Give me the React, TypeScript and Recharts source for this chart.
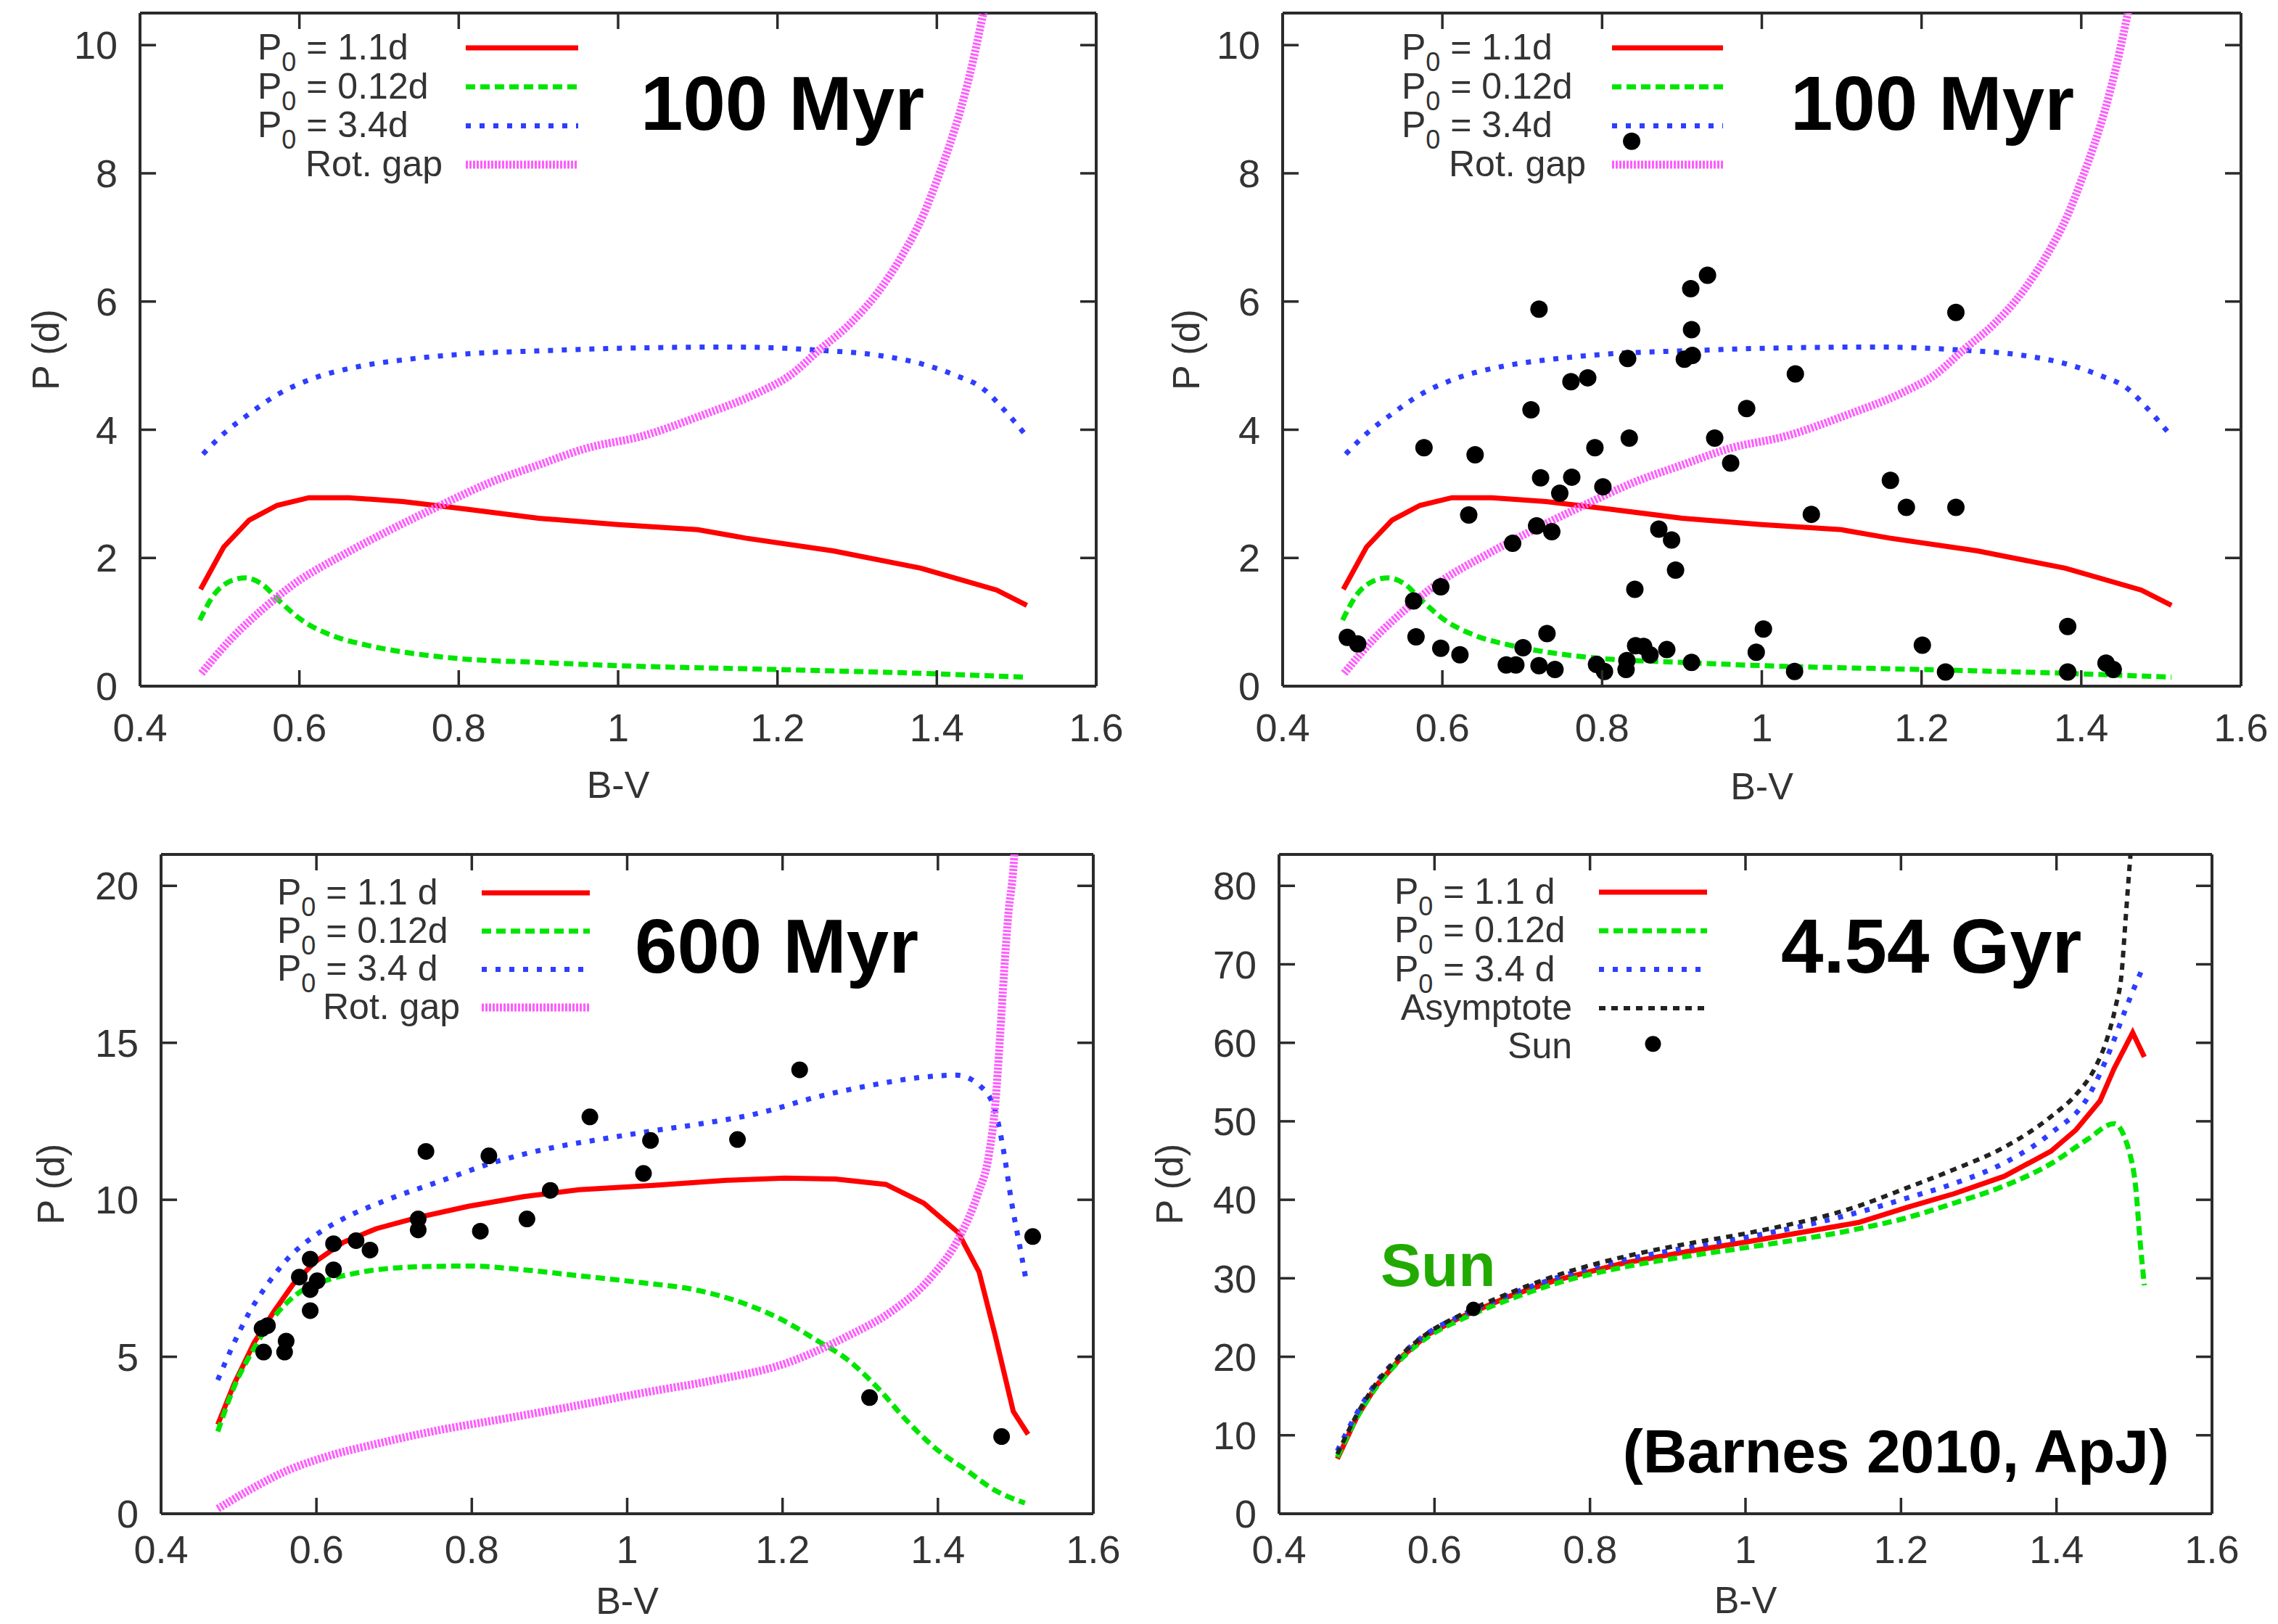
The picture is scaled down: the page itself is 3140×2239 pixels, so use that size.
import React from "react";
import { ComposedChart, Line, Scatter, XAxis, YAxis, ReferenceLine } from "recharts";

type Pt = [number, number];

const FONT = '"Liberation Sans", Arial, Helvetica, sans-serif';
const INK = "#2b2b2b";
const GREY = "#333333";

const BV_MIN = 0.4;
const BV_MAX = 1.6;
const BV_TICKS = [0.4, 0.6, 0.8, 1, 1.2, 1.4, 1.6];
const P_TICKS_100 = [0, 2, 4, 6, 8, 10];
const P_TICKS_600 = [0, 5, 10, 15, 20];
const P_TICKS_GYR = [0, 10, 20, 30, 40, 50, 60, 70, 80];

// 100 Myr tracks (same model in both top panels)
const fast100: Pt[] = [
  [0.476, 1.51], [0.505, 2.17], [0.537, 2.59], [0.572, 2.82], [0.612, 2.94], [0.662, 2.94],
  [0.73, 2.88], [0.81, 2.76], [0.9, 2.62], [1.0, 2.52], [1.1, 2.44], [1.16, 2.31],
  [1.27, 2.11], [1.38, 1.84], [1.475, 1.5], [1.513, 1.26],
];
const vfast100: Pt[] = [
  [0.475, 1.03], [0.493, 1.43], [0.509, 1.61], [0.532, 1.69], [0.552, 1.6], [0.574, 1.34],
  [0.603, 1.03], [0.639, 0.8], [0.688, 0.63], [0.737, 0.52], [0.8, 0.43], [0.9, 0.37],
  [1.0, 0.32], [1.2, 0.26], [1.38, 0.2], [1.513, 0.14],
];
const slow100: Pt[] = [
  [0.479, 3.62], [0.505, 3.94], [0.534, 4.22], [0.574, 4.56], [0.615, 4.79], [0.676, 4.99],
  [0.737, 5.1], [0.818, 5.19], [0.9, 5.23], [1.0, 5.27], [1.14, 5.29], [1.253, 5.24],
  [1.327, 5.16], [1.383, 5.02], [1.423, 4.85], [1.457, 4.65], [1.483, 4.33], [1.512, 3.91],
];
const gap100: Pt[] = [
  [0.477, 0.2], [0.513, 0.72], [0.554, 1.2], [0.594, 1.6], [0.655, 2.05], [0.716, 2.45],
  [0.777, 2.82], [0.838, 3.17], [0.9, 3.45], [0.96, 3.71], [1.03, 3.9], [1.104, 4.22],
  [1.178, 4.59], [1.216, 4.85], [1.253, 5.25], [1.29, 5.64], [1.327, 6.16], [1.357, 6.73],
  [1.383, 7.35], [1.401, 7.92], [1.416, 8.44], [1.43, 9.0], [1.445, 9.73], [1.46, 10.6], [1.47, 11.2],
];
// observed 100 Myr cluster stars
const stars100: Pt[] = [
  [0.837, 8.5], [0.932, 6.41], [0.911, 6.2], [0.721, 5.88], [0.912, 5.56], [0.832, 5.11],
  [0.903, 5.1], [0.913, 5.16], [0.761, 4.75], [0.782, 4.81], [0.711, 4.31], [0.981, 4.33],
  [1.042, 4.87], [0.577, 3.72], [0.641, 3.61], [0.791, 3.72], [0.834, 3.87], [0.941, 3.87],
  [0.961, 3.48], [0.723, 3.25], [0.762, 3.26], [0.747, 3.01], [0.801, 3.11], [0.633, 2.67],
  [0.718, 2.5], [0.737, 2.41], [0.688, 2.23], [0.871, 2.45], [0.887, 2.28], [0.892, 1.81],
  [0.841, 1.51], [0.598, 1.55], [0.564, 1.33], [0.481, 0.76], [0.494, 0.66], [0.567, 0.77],
  [0.598, 0.59], [0.622, 0.49], [0.731, 0.82], [0.701, 0.6], [0.68, 0.33], [0.692, 0.33],
  [0.721, 0.32], [0.741, 0.26], [0.793, 0.34], [0.803, 0.23], [0.83, 0.26], [0.831, 0.4],
  [0.842, 0.63], [0.852, 0.62], [0.86, 0.49], [0.881, 0.57], [0.912, 0.37], [1.002, 0.89],
  [0.993, 0.53], [1.041, 0.23], [1.243, 5.83], [1.161, 3.21], [1.062, 2.68], [1.181, 2.79],
  [1.243, 2.79], [1.201, 0.64], [1.383, 0.93], [1.23, 0.22], [1.383, 0.22], [1.431, 0.36],
  [1.44, 0.26],
];

// 600 Myr
const fast600: Pt[] = [
  [0.473, 2.84], [0.494, 4.13], [0.52, 5.46], [0.545, 6.43], [0.57, 7.31], [0.598, 8.02],
  [0.634, 8.64], [0.677, 9.08], [0.731, 9.44], [0.795, 9.79], [0.867, 10.1], [0.938, 10.32],
  [1.034, 10.46], [1.128, 10.62], [1.203, 10.69], [1.268, 10.66], [1.333, 10.49], [1.382, 9.89],
  [1.426, 8.96], [1.453, 7.7], [1.474, 5.65], [1.497, 3.26], [1.516, 2.53],
];
const vfast600: Pt[] = [
  [0.473, 2.62], [0.494, 4.04], [0.52, 5.28], [0.545, 6.25], [0.573, 6.96], [0.609, 7.4],
  [0.652, 7.67], [0.724, 7.86], [0.795, 7.89], [0.867, 7.77], [0.938, 7.58], [1.015, 7.37],
  [1.092, 7.11], [1.149, 6.71], [1.199, 6.18], [1.245, 5.51], [1.283, 4.92], [1.321, 4.05],
  [1.359, 2.99], [1.398, 2.06], [1.436, 1.4], [1.474, 0.74], [1.512, 0.34],
];
const slow600: Pt[] = [
  [0.473, 4.26], [0.491, 5.28], [0.512, 6.34], [0.537, 7.31], [0.566, 8.2], [0.598, 8.86],
  [0.634, 9.39], [0.688, 9.97], [0.759, 10.59], [0.831, 11.21], [0.902, 11.65], [0.974, 11.96],
  [1.034, 12.2], [1.092, 12.41], [1.168, 12.75], [1.245, 13.28], [1.321, 13.68], [1.382, 13.91],
  [1.424, 13.97], [1.455, 13.61], [1.474, 12.81], [1.485, 11.49], [1.495, 9.89], [1.505, 8.57],
  [1.514, 7.37],
];
const gap600: Pt[] = [
  [0.473, 0.16], [0.519, 0.83], [0.56, 1.35], [0.613, 1.82], [0.678, 2.23], [0.753, 2.64],
  [0.847, 3.05], [0.94, 3.47], [1.02, 3.85], [1.111, 4.25], [1.203, 4.78], [1.283, 5.65],
  [1.34, 6.44], [1.39, 7.5], [1.428, 8.83], [1.451, 10.16], [1.466, 11.49], [1.474, 13.08],
  [1.48, 15.2], [1.485, 17.19], [1.491, 19.18], [1.497, 20.51], [1.502, 22.5],
];
const stars600: Pt[] = [
  [0.952, 12.64], [0.741, 11.54], [0.822, 11.4], [1.03, 11.89], [1.021, 10.84], [0.901, 10.3],
  [0.731, 9.39], [0.731, 9.04], [0.811, 9.0], [0.871, 9.39], [0.622, 8.6], [0.651, 8.7],
  [0.669, 8.4], [0.592, 8.11], [0.622, 7.77], [0.578, 7.54], [0.601, 7.42], [0.592, 7.14],
  [0.592, 6.47], [0.537, 5.99], [0.53, 5.9], [0.561, 5.5], [0.559, 5.15], [0.532, 5.15],
  [1.222, 14.14], [1.142, 11.92], [1.312, 3.7], [1.482, 2.46], [1.522, 8.83],
];

// 4.54 Gyr
const fastGyr: Pt[] = [
  [0.475, 7.0], [0.5, 12.3], [0.525, 16.3], [0.558, 20.0], [0.591, 22.8], [0.633, 25.0],
  [0.696, 27.7], [0.758, 29.8], [0.842, 31.9], [0.925, 33.4], [1.0, 34.6], [1.145, 37.1],
  [1.207, 39.0], [1.269, 40.8], [1.333, 43.0], [1.393, 46.2], [1.425, 48.9], [1.456, 52.6],
  [1.474, 56.7], [1.498, 61.3], [1.513, 58.2],
];
const vfastGyr: Pt[] = [
  [0.475, 7.2], [0.5, 12.2], [0.525, 16.1], [0.558, 19.8], [0.591, 22.5], [0.633, 24.7],
  [0.696, 27.3], [0.758, 29.4], [0.842, 31.4], [0.925, 32.8], [1.0, 33.9], [1.145, 36.3],
  [1.207, 37.7], [1.269, 39.6], [1.331, 41.7], [1.393, 44.6], [1.44, 47.7], [1.474, 49.7],
  [1.496, 45.2], [1.502, 41.5], [1.507, 35.3], [1.513, 29.1],
];
const slowGyr: Pt[] = [
  [0.475, 8.0], [0.5, 12.8], [0.525, 16.7], [0.558, 20.3], [0.591, 23.0], [0.633, 25.2],
  [0.696, 27.9], [0.758, 30.1], [0.842, 32.3], [0.925, 33.9], [1.0, 35.2], [1.145, 38.4],
  [1.207, 40.2], [1.269, 42.1], [1.331, 44.6], [1.393, 48.5], [1.44, 53.0], [1.471, 59.6],
  [1.487, 63.8], [1.502, 67.5], [1.513, 70.0],
];
const asymGyr: Pt[] = [
  [0.475, 7.6], [0.5, 12.6], [0.525, 16.6], [0.558, 20.3], [0.591, 23.0], [0.633, 25.3],
  [0.696, 28.1], [0.758, 30.4], [0.842, 32.7], [0.925, 34.4], [1.0, 35.7], [1.145, 39.2],
  [1.207, 41.5], [1.269, 43.9], [1.331, 46.6], [1.393, 50.6], [1.425, 53.4], [1.449, 56.7],
  [1.465, 60.5], [1.476, 64.6], [1.484, 69.1], [1.488, 74.5], [1.492, 79.9], [1.496, 85.0],
];
const sun: Pt[] = [[0.65, 26.1]];

type Kind = "fast" | "vfast" | "slow" | "gap" | "asym";
const STYLE: Record<Kind, { stroke: string; width: number; dash?: string; curve: "linear" | "monotone" }> = {
  fast: { stroke: "#ff0000", width: 7, curve: "linear" },
  vfast: { stroke: "#00e600", width: 7, dash: "13 7", curve: "monotone" },
  slow: { stroke: "#2e3dff", width: 7, dash: "7 12", curve: "monotone" },
  gap: { stroke: "#ff5cff", width: 11, dash: "3 2", curve: "monotone" },
  asym: { stroke: "#222222", width: 6, dash: "9 8", curve: "monotone" },
};

const toXY = (pts: Pt[]) => pts.map(([x, y]) => ({ x, y }));

const TICK = 22;
const AX_W = 120;
const AX_H = 100;

function P0({ v }: { v: string }) {
  return (
    <>
      <tspan>P</tspan>
      <tspan fontSize={36} dy={16}>0</tspan>
      <tspan dy={-16}>{" = " + v}</tspan>
    </>
  );
}

type KeyRow = { label: React.ReactNode; kind: Kind | "dot"; x: number; anchor: "start" | "end" };

function Key({ rows, y0, step, sx }: { rows: KeyRow[]; y0: number; step: number; sx: [number, number] }) {
  return (
    <g>
      {rows.map((r, i) => {
        const y = y0 + i * step;
        const st = r.kind === "dot" ? null : STYLE[r.kind];
        return (
          <g key={i}>
            <text x={r.x} y={y} textAnchor={r.anchor} fontSize={50} fill={GREY} style={{ whiteSpace: "pre" }}>
              {r.label}
            </text>
            {st ? (
              <line x1={sx[0]} x2={sx[1]} y1={y - 16} y2={y - 16} stroke={st.stroke} strokeWidth={st.width} strokeDasharray={st.dash} />
            ) : (
              <circle cx={(sx[0] + sx[1]) / 2} cy={y - 20} r={11} fill="#000" />
            )}
          </g>
        );
      })}
    </g>
  );
}

type PanelProps = {
  left: number;
  top: number;
  width: number;
  height: number;
  plot: { l: number; r: number; t: number; b: number };
  yMax: number;
  yTicks: number[];
  xGap: number;
  tracks: { pts: Pt[]; kind: Kind }[];
  stars?: Pt[];
  starR?: number;
  yLabelX: number;
  xLabelY: number;
  children?: React.ReactNode;
};

function Panel({ left, top, width, height, plot, yMax, yTicks, xGap, tracks, stars, starR = 12, yLabelX, xLabelY, children }: PanelProps) {
  const axisLine = { stroke: INK, strokeWidth: 4 };
  const tickText = { fill: GREY, fontSize: 54, fontFamily: FONT };
  const ids = { xAxisId: "b", yAxisId: "l" };
  // positions of the tick values on the frame (same linear mapping as the axes)
  const px = (v: number) => plot.l + ((v - BV_MIN) / (BV_MAX - BV_MIN)) * (plot.r - plot.l);
  const py = (v: number) => plot.b - (v / yMax) * (plot.b - plot.t);

  return (
    <div style={{ position: "absolute", left, top, width, height }}>
      <ComposedChart
        width={width}
        height={height}
        margin={{ top: plot.t, right: width - plot.r, bottom: height - plot.b - AX_H, left: plot.l - AX_W }}
      >
        <XAxis xAxisId="b" dataKey="x" type="number" domain={[BV_MIN, BV_MAX]} ticks={BV_TICKS} interval={0}
          allowDataOverflow height={AX_H} tickSize={0} tickMargin={xGap}
          axisLine={axisLine} tickLine={false} tick={tickText} />
        <YAxis yAxisId="l" dataKey="y" type="number" domain={[0, yMax]} ticks={yTicks} interval={0}
          allowDataOverflow width={AX_W} tickSize={0} tickMargin={31}
          axisLine={axisLine} tickLine={false} tick={tickText} />
        {/* top and right edges of the frame */}
        <ReferenceLine {...ids} y={yMax} stroke={INK} strokeWidth={4} ifOverflow="visible" />
        <ReferenceLine {...ids} x={BV_MAX} stroke={INK} strokeWidth={4} ifOverflow="visible" />

        {tracks.map((t, i) => {
          const s = STYLE[t.kind];
          return (
            <Line key={i} {...ids} data={toXY(t.pts)} dataKey="y" type={s.curve}
              stroke={s.stroke} strokeWidth={s.width} strokeDasharray={s.dash}
              dot={false} activeDot={false} isAnimationActive={false} />
          );
        })}
        {stars && (
          <Scatter {...ids} data={toXY(stars)} dataKey="y" isAnimationActive={false}
            shape={(p: any) => <circle cx={p.cx} cy={p.cy} r={starR} fill="#000" />} />
        )}
      </ComposedChart>
      <svg width={width} height={height} style={{ position: "absolute", left: 0, top: 0, pointerEvents: "none" }}
        fontFamily={FONT}>
        {/* inward tick marks on all four sides */}
        <g stroke={INK} strokeWidth={3.5}>
          {BV_TICKS.map((v) => (
            <g key={"x" + v}>
              <line x1={px(v)} x2={px(v)} y1={plot.b} y2={plot.b - TICK} />
              <line x1={px(v)} x2={px(v)} y1={plot.t} y2={plot.t + TICK} />
            </g>
          ))}
          {yTicks.map((v) => (
            <g key={"y" + v}>
              <line x1={plot.l} x2={plot.l + TICK} y1={py(v)} y2={py(v)} />
              <line x1={plot.r} x2={plot.r - TICK} y1={py(v)} y2={py(v)} />
            </g>
          ))}
        </g>
        <text x={(plot.l + plot.r) / 2} y={xLabelY} textAnchor="middle" fontSize={52} fill={GREY}>B-V</text>
        <text transform={`translate(${yLabelX},${(plot.t + plot.b) / 2}) rotate(-90)`} textAnchor="middle"
          dominantBaseline="central" fontSize={52} fill={GREY}>P (d)</text>
        {children}
      </svg>
    </div>
  );
}

const bold = { fontWeight: 700, fill: "#000" } as const;

export default function App() {
  const keyShort = (x: number, rotRight: number): KeyRow[] => [
    { label: <P0 v="1.1d" />, kind: "fast", x, anchor: "start" },
    { label: <P0 v="0.12d" />, kind: "vfast", x, anchor: "start" },
    { label: <P0 v="3.4d" />, kind: "slow", x, anchor: "start" },
    { label: "Rot. gap", kind: "gap", x: rotRight, anchor: "end" },
  ];
  return (
    <div style={{ position: "absolute", left: 0, top: 0, width: 3140, height: 2239, background: "#fff", fontFamily: FONT }}>
      <Panel left={0} top={0} width={1570} height={1120} plot={{ l: 193, r: 1511, t: 18, b: 946 }}
        yMax={10.5} yTicks={P_TICKS_100} xGap={38}
        tracks={[{ pts: fast100, kind: "fast" }, { pts: vfast100, kind: "vfast" }, { pts: slow100, kind: "slow" }, { pts: gap100, kind: "gap" }]}
        yLabelX={63} xLabelY={1100}>
        <Key rows={keyShort(355, 610)} y0={82} step={53.7} sx={[642, 797]} />
        <text x={883} y={179} fontSize={105} {...bold}>100 Myr</text>
      </Panel>
      <Panel left={1570} top={0} width={1570} height={1120} plot={{ l: 198, r: 1519, t: 18, b: 946 }}
        yMax={10.5} yTicks={P_TICKS_100} xGap={38}
        tracks={[{ pts: fast100, kind: "fast" }, { pts: vfast100, kind: "vfast" }, { pts: slow100, kind: "slow" }, { pts: gap100, kind: "gap" }]}
        stars={stars100} yLabelX={65} xLabelY={1102}>
        <Key rows={keyShort(362, 616)} y0={82} step={53.7} sx={[652, 805]} />
        <text x={898} y={179} fontSize={105} {...bold}>100 Myr</text>
      </Panel>
      <Panel left={0} top={1120} width={1570} height={1119} plot={{ l: 222, r: 1507, t: 58, b: 967 }}
        yMax={21} yTicks={P_TICKS_600} xGap={30}
        tracks={[{ pts: fast600, kind: "fast" }, { pts: vfast600, kind: "vfast" }, { pts: slow600, kind: "slow" }, { pts: gap600, kind: "gap" }]}
        stars={stars600} starR={11.5} yLabelX={70} xLabelY={1105}>
        <Key
          rows={[
            { label: <P0 v="1.1 d" />, kind: "fast", x: 382, anchor: "start" },
            { label: <P0 v="0.12d" />, kind: "vfast", x: 382, anchor: "start" },
            { label: <P0 v="3.4 d" />, kind: "slow", x: 382, anchor: "start" },
            { label: "Rot. gap", kind: "gap", x: 634, anchor: "end" },
          ]}
          y0={127} step={52.7} sx={[664, 813]}
        />
        <text x={875} y={221} fontSize={105} {...bold}>600 Myr</text>
      </Panel>
      <Panel left={1570} top={1120} width={1570} height={1119} plot={{ l: 193, r: 1479, t: 58, b: 967 }}
        yMax={84} yTicks={P_TICKS_GYR} xGap={30}
        tracks={[{ pts: fastGyr, kind: "fast" }, { pts: vfastGyr, kind: "vfast" }, { pts: slowGyr, kind: "slow" }, { pts: asymGyr, kind: "asym" }]}
        stars={sun} starR={10} yLabelX={42} xLabelY={1104}>
        <Key
          rows={[
            { label: <P0 v="1.1 d" />, kind: "fast", x: 352, anchor: "start" },
            { label: <P0 v="0.12d" />, kind: "vfast", x: 352, anchor: "start" },
            { label: <P0 v="3.4 d" />, kind: "slow", x: 352, anchor: "start" },
            { label: "Asymptote", kind: "asym", x: 597, anchor: "end" },
            { label: "Sun", kind: "dot", x: 597, anchor: "end" },
          ]}
          y0={126} step={53.3} sx={[634, 783]}
        />
        <text x={885} y={221} fontSize={105} {...bold}>4.54 Gyr</text>
        <text x={333} y={653} fontSize={84} fontWeight={700} fill="#22aa00">Sun</text>
        <text x={1420} y={910} fontSize={84} textAnchor="end" {...bold}>(Barnes 2010, ApJ)</text>
      </Panel>
    </div>
  );
}
